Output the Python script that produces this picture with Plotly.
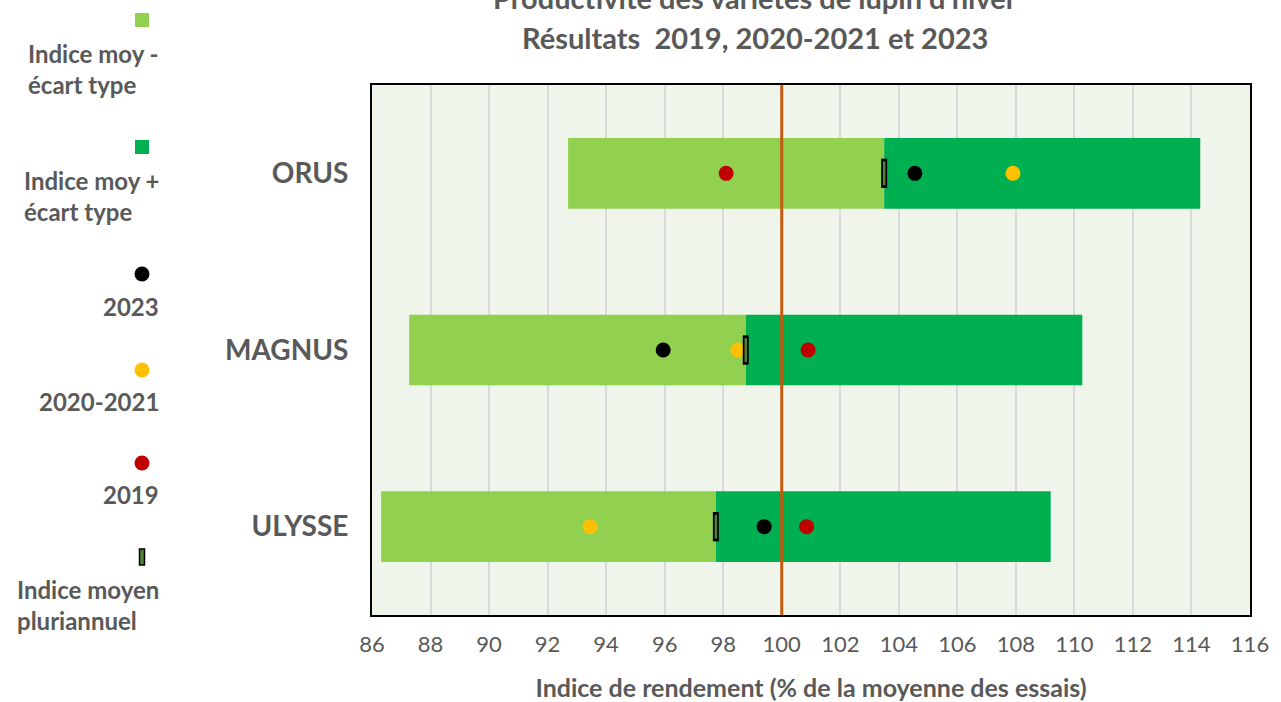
import plotly.graph_objects as go

varieties = ["ORUS", "MAGNUS", "ULYSSE"]
mean_index = [103.5, 98.77, 97.75]
std_dev = [10.8, 11.5, 11.44]
y2019 = [98.1, 100.9, 100.85]
y2020_2021 = [107.9, 98.5, 93.45]
y2023 = [104.55, 95.95, 99.4]
REFERENCE = 100
x_ticks = list(range(86, 117, 2))

C_LIGHT = "#92D050"
C_DARK = "#00B050"
C_RED = "#C00000"
C_YELLOW = "#FFC000"
C_BLACK = "#000000"
C_ORANGE = "#C55A11"
GRAY = "#595959"
FONT = "Lato"

lower = [m - s for m, s in zip(mean_index, std_dev)]

fig = go.Figure()
fig.add_trace(go.Bar(y=varieties, x=std_dev, base=lower, orientation="h",
                     marker=dict(color=C_LIGHT, line=dict(width=0)), width=0.4,
                     name="Indice moy - écart type"))
fig.add_trace(go.Bar(y=varieties, x=std_dev, base=mean_index, orientation="h",
                     marker=dict(color=C_DARK, line=dict(width=0)), width=0.4,
                     name="Indice moy + écart type"))

for vals, col, nm in [(y2023, C_BLACK, "2023"), (y2020_2021, C_YELLOW, "2020-2021"), (y2019, C_RED, "2019")]:
    fig.add_trace(go.Scatter(x=vals, y=varieties, mode="markers", name=nm,
                             marker=dict(color=col, size=15, symbol="circle", line=dict(width=0))))

# mean marker: black outlined narrow rectangle with green fill
fig.add_trace(go.Scatter(x=mean_index, y=varieties, mode="markers", name="Indice moyen pluriannuel",
                         marker=dict(symbol="line-ns", size=21, line=dict(color=C_BLACK, width=6))))
fig.add_trace(go.Scatter(x=mean_index, y=varieties, mode="markers", showlegend=False,
                         marker=dict(symbol="line-ns", size=17, line=dict(color="#548235", width=2.5))))

fig.add_vline(x=REFERENCE, line=dict(color=C_ORANGE, width=3), layer="above")

fig.update_layout(
    width=1281, height=702,
    margin=dict(l=372, r=31, t=85, b=87),
    paper_bgcolor="white", plot_bgcolor="#EFF5EA",
    barmode="overlay", showlegend=False,
    font=dict(family=FONT, color=GRAY),
)
fig.update_xaxes(range=[86, 116], tickvals=x_ticks, ticktext=[str(t) for t in x_ticks],
                 showgrid=True, gridcolor="#D9D9D9", gridwidth=2,
                 showline=True, linecolor="black", linewidth=2, mirror=True,
                 zeroline=False, ticks="", ticklabelstandoff=9, automargin=False,
                 tickfont=dict(size=22, color=GRAY, family=FONT),
                 title=dict(text="<b>Indice de rendement (% de la moyenne des essais)</b>",
                            font=dict(size=25, color=GRAY, family=FONT), standoff=24))
fig.update_yaxes(categoryorder="array", categoryarray=varieties, autorange="reversed",
                 showgrid=False, showline=True, linecolor="black", linewidth=2, mirror=True,
                 zeroline=False, ticks="", ticklabelstandoff=16, automargin=False,
                 tickfont=dict(size=28, color=GRAY, family=FONT, weight="bold"))

H = 530
W = 878
def py(pix):
    return 1 + (85 - pix) / H
def px(pix):
    return (pix - 372) / W

# Title (first line is cut off at the top in the reference)
fig.add_annotation(text="<b>Productivité des variétés de lupin d'hiver</b>", xref="paper", yref="paper",
                   x=px(755), y=py(-3), showarrow=False, font=dict(size=29, color=GRAY, family=FONT),
                   xanchor="center", yanchor="middle")
fig.add_annotation(text="<b>Résultats  2019, 2020-2021 et 2023</b>", xref="paper", yref="paper",
                   x=px(755), y=py(37), showarrow=False, font=dict(size=29, color=GRAY, family=FONT),
                   xanchor="center", yanchor="middle")

# Custom legend (symbol above label)
legend_items = [
    ("square", C_LIGHT, "Indice moy -<br>écart type", 20, 69),
    ("square", C_DARK, "Indice moy +<br>écart type", 147, 196),
    ("circle", C_BLACK, "2023", 274, 306),
    ("circle", C_YELLOW, "2020-2021", 370, 401),
    ("circle", C_RED, "2019", 463, 494),
    ("mean", "#548235", "Indice moyen<br>pluriannuel", 557, 605),
]
for kind, col, label, ysym, ytxt in legend_items:
    if kind == "square":
        fig.add_shape(type="rect", xref="paper", yref="paper", xsizemode="pixel", ysizemode="pixel",
                      xanchor=px(142), yanchor=py(ysym), x0=-7, x1=7, y0=-7, y1=7,
                      fillcolor=col, line=dict(width=0))
    elif kind == "circle":
        fig.add_shape(type="circle", xref="paper", yref="paper", xsizemode="pixel", ysizemode="pixel",
                      xanchor=px(142), yanchor=py(ysym), x0=-7.5, x1=7.5, y0=-7.5, y1=7.5,
                      fillcolor=col, line=dict(width=0))
    else:
        fig.add_shape(type="rect", xref="paper", yref="paper", xsizemode="pixel", ysizemode="pixel",
                      xanchor=px(142), yanchor=py(ysym), x0=-2.5, x1=2.5, y0=-8, y1=8,
                      fillcolor=col, line=dict(color="black", width=1.5))
    fig.add_annotation(text="<b>" + label + "</b>", xref="paper", yref="paper", x=px(161), y=py(ytxt),
                       xanchor="right", yanchor="middle", align="left", showarrow=False,
                       font=dict(size=24, color=GRAY, family=FONT))

fig.write_html("out.html", config={"displayModeBar": False},
               post_script="document.body.style.margin='0';")
